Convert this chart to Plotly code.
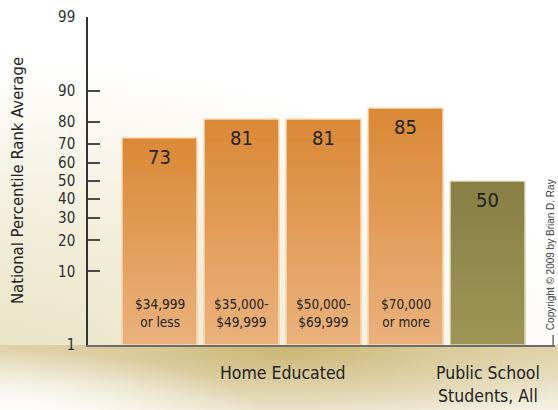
import base64
from statistics import NormalDist
import plotly.graph_objects as go

# ---------------- data ----------------
bar_labels = ["$34,999<br>or less", "$35,000-<br>$49,999", "$50,000-<br>$69,999", "$70,000<br>or more", ""]
values = [73, 81, 81, 85, 50]
groups = ["home", "home", "home", "home", "public"]
group_titles = ["Home Educated", "Public School<br>Students, All"]
group_centers = [1.5, 4]
y_ticks = [1, 10, 20, 30, 40, 50, 60, 70, 80, 90, 99]
y_title = "National Percentile Rank Average"
copyright_text = "Copyright © 2009 by Brian D. Ray"

# ---------------- helpers ----------------
nd = NormalDist()


def probit(p):
    return nd.inv_cdf(p / 100.0)


def hex2rgb(h):
    h = h.lstrip("#")
    return tuple(int(h[i:i + 2], 16) for i in (0, 2, 4))


def mix(c1, c2, t):
    a, b = hex2rgb(c1), hex2rgb(c2)
    return "rgb(%d,%d,%d)" % tuple(round(a[i] + (b[i] - a[i]) * t) for i in range(3))


COND = "Liberation Sans Narrow, DejaVu Sans Condensed, Arial Narrow, sans-serif"
DARK = "#222222"
palette = {"home": ("#DA8936", "#EAB27E"), "public": ("#897F45", "#9E9556")}
edge = {"home": "rgba(250,222,190,0.95)", "public": "rgba(235,230,200,0.9)"}

z_base = probit(1)
z_top = [probit(v) for v in values]
x_pos = list(range(len(values)))
BW = 0.915

fig = go.Figure()

# gradient bars: nested bars drawn top-down, each shorter and lighter
N = 40
for k in range(N):
    frac = (N - k) / N
    heights = [(zt - z_base) * frac for zt in z_top]
    cols = [mix(palette[g][0], palette[g][1], 1 - frac) for g in groups]
    fig.add_trace(go.Bar(
        x=x_pos, y=heights, base=[z_base] * len(values), width=BW,
        marker=dict(color=cols, line=dict(width=0)),
        hoverinfo="skip", showlegend=False,
    ))

# light outline of each bar
fig.add_trace(go.Bar(
    x=x_pos, y=[zt - z_base for zt in z_top], base=[z_base] * len(values), width=BW,
    marker=dict(color="rgba(0,0,0,0)", line=dict(width=1.5, color=[edge[g] for g in groups])),
    customdata=values, hovertemplate="%{customdata}<extra></extra>", showlegend=False,
))

annotations = []
# value labels
for xi, zt, v in zip(x_pos, z_top, values):
    annotations.append(dict(x=xi, y=zt, xref="x", yref="y", text=str(v), showarrow=False,
                            yanchor="middle", yshift=-19,
                            font=dict(family=COND, size=20, color=DARK)))
# bar category labels
for xi, lab in zip(x_pos, bar_labels):
    if lab:
        annotations.append(dict(x=xi, y=0.098, xref="x", yref="paper", text=lab, showarrow=False,
                                yanchor="middle", font=dict(family=COND, size=13.5, color=DARK)))
# group titles
for gx, gt in zip(group_centers, group_titles):
    annotations.append(dict(x=gx, y=-0.085, xref="x", yref="paper", text=gt, showarrow=False,
                            yanchor="top" if "<br>" in gt else "middle",
                            yshift=12 if "<br>" in gt else 0,
                            font=dict(family=COND, size=17.5, color=DARK)))
# y title
annotations.append(dict(x=-0.152, y=0.5, xref="paper", yref="paper", text=y_title, textangle=-90,
                        showarrow=False, xanchor="center", yanchor="middle",
                        font=dict(family=COND, size=16.5, color=DARK)))
# copyright
annotations.append(dict(x=0.99, y=0.275, xref="paper", yref="paper", text=copyright_text, textangle=-90,
                        showarrow=False, xanchor="center", yanchor="middle",
                        font=dict(family="Liberation Sans, Arial, sans-serif", size=10, color="#3a3a3a")))

# background image (gradients)
W, H = 558, 410
svg = f'''<svg xmlns="http://www.w3.org/2000/svg" width="{W}" height="{H}" viewBox="0 0 {W} {H}" preserveAspectRatio="none">
<defs>
<radialGradient id="g1" gradientUnits="userSpaceOnUse" cx="0" cy="0" r="1" gradientTransform="translate(0,360) scale(600,300)">
<stop offset="0" stop-color="#E9E3C3"/><stop offset="0.45" stop-color="#F2EEDB"/><stop offset="1" stop-color="#FFFFFF"/>
</radialGradient>
<linearGradient id="g2" x1="0" y1="0" x2="0" y2="1">
<stop offset="0" stop-color="#E2D6B0"/><stop offset="1" stop-color="#F4EFE2"/>
</linearGradient>
<radialGradient id="g5" gradientUnits="userSpaceOnUse" cx="0" cy="0" r="1" gradientTransform="translate(285,345) scale(340,85)">
<stop offset="0" stop-color="#C8B36E" stop-opacity="1"/><stop offset="0.5" stop-color="#D4C38E" stop-opacity="0.6"/><stop offset="1" stop-color="#D4C38E" stop-opacity="0"/>
</radialGradient>
<radialGradient id="g3" gradientUnits="userSpaceOnUse" cx="0" cy="0" r="1" gradientTransform="translate(0,415) scale(260,65)">
<stop offset="0" stop-color="#FFFFFF" stop-opacity="1"/><stop offset="1" stop-color="#FFFFFF" stop-opacity="0"/>
</radialGradient>
</defs>
<rect x="0" y="0" width="{W}" height="{H}" fill="url(#g1)"/>
<rect x="0" y="345" width="{W}" height="{H-345}" fill="url(#g2)"/>
<rect x="0" y="345" width="{W}" height="{H-345}" fill="url(#g5)"/>
<rect x="0" y="345" width="{W}" height="{H-345}" fill="url(#g3)"/>
</svg>'''
src = "data:image/svg+xml;base64," + base64.b64encode(svg.encode()).decode()

L, R, T, B = 88, 3, 17, 65
PW, PH = W - L - R, H - T - B

fig.update_layout(
    width=W, height=H,
    margin=dict(l=L, r=R, t=T, b=B),
    barmode="overlay",
    paper_bgcolor="white",
    plot_bgcolor="rgba(0,0,0,0)",
    showlegend=False,
    annotations=annotations,
    images=[dict(source=src, xref="paper", yref="paper", x=-L / PW, y=1 + T / PH,
                 sizex=W / PW, sizey=H / PH, sizing="stretch", layer="below",
                 xanchor="left", yanchor="top")],
    shapes=[dict(type="line", xref="paper", yref="paper", x0=0.996, x1=0.996, y0=0, y1=10 / PH,
                 line=dict(color="#6b6b6b", width=1.5))],
    xaxis=dict(range=[-0.872, 4.823], showticklabels=False, ticks="", showgrid=False, zeroline=False,
               showline=True, linecolor="#6b6b6b", linewidth=2, fixedrange=True),
    yaxis=dict(range=[z_base, probit(99)], tickvals=[probit(t) for t in y_ticks],
               ticktext=[str(t) for t in y_ticks], ticks="inside", ticklen=12, tickwidth=1.5,
               tickcolor="#4a4a4a", showline=True, linecolor="#333", linewidth=1.5,
               showgrid=False, zeroline=False, ticklabelstandoff=8,
               tickfont=dict(family=COND, size=15, color="#2e2e2e"), fixedrange=True),
)

fig.write_html("out.html", config={"displayModeBar": False},
               post_script="document.body.style.margin='0';document.body.style.overflow='hidden';")
